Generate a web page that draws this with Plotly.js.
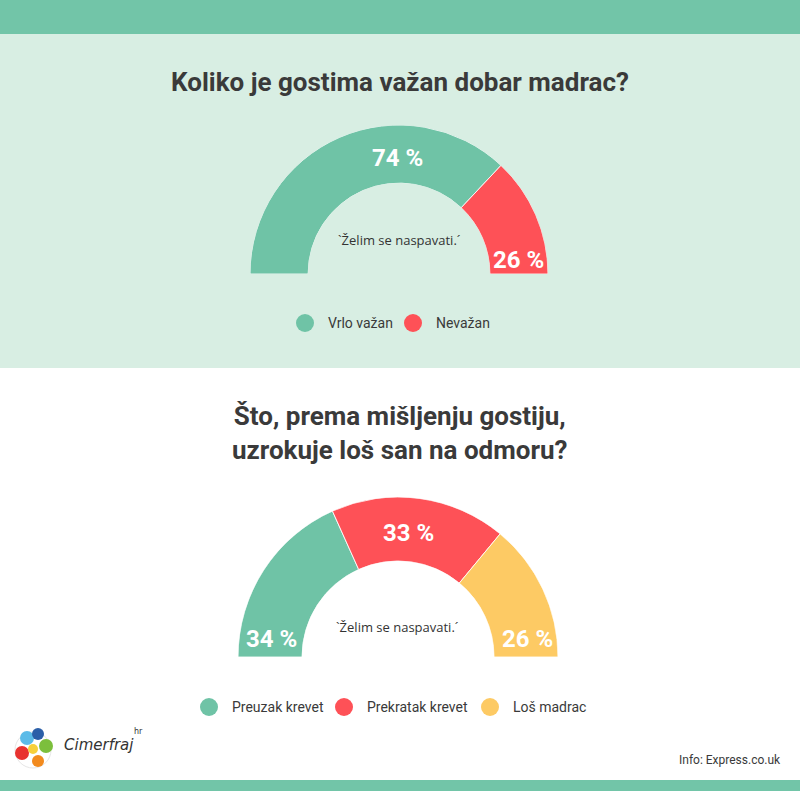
<!DOCTYPE html>
<html><head><meta charset="utf-8">
<script src="https://cdn.plot.ly/plotly-3.0.1.min.js"></script>
<style>html,body{margin:0;padding:0;background:#fff;}#chart{width:800px;height:791px;}</style>
</head><body><div id="chart"></div>
<script>
// ---- data ----
const title1 = 'Koliko je gostima važan dobar madrac?';
const cats1 = ['Vrlo važan', 'Nevažan'];
const vals1 = [74, 26];

const title2Lines = ['Što, prema mišljenju gostiju,', 'uzrokuje loš san na odmoru?'];
const cats2 = ['Preuzak krevet', 'Prekratak krevet', 'Loš madrac'];
const vals2 = [34, 33, 26];

const centerText = '`Želim se naspavati.´';
const sourceText = 'Info: Express.co.uk';
const brandText = 'Cimerfraj';
const brandSuffix = 'hr';

// ---- styles ----
const colors1 = ['#6fc3a6', '#fe5157'];
const colors2 = ['#6fc3a6', '#fe5157', '#fdca64'];
const W = 800, H = 791;
const TXT = '#3a3a3a';
const px = x => x / W;
const py = y => 1 - y / H;

function gaugeTraces(cats, vals, colors, polarId) {
  const total = vals.reduce((a, b) => a + b, 0);
  let cum = 0;
  return vals.map((v, i) => {
    const w = 180 * v / total;
    const th = 180 * cum / total + w / 2;
    cum += v;
    return {
      type: 'barpolar', subplot: polarId,
      r: [1], theta: [th], width: [w], base: [0],
      name: cats[i], showlegend: false,
      text: [v + ' %'], hoverinfo: 'name+text',
      marker: {color: colors[i], line: {color: 'rgba(255,255,255,0.85)', width: 1}}
    };
  });
}

const data = [
  ...gaugeTraces(cats1, vals1, colors1, 'polar'),
  ...gaugeTraces(cats2, vals2, colors2, 'polar2')
];

function polarCfg(cx, cy, R, hole) {
  return {
    domain: {x: [px(cx - R), px(cx + R)], y: [py(cy), py(cy - R)]},
    sector: [0, 180], hole: hole, bgcolor: 'rgba(0,0,0,0)',
    radialaxis: {visible: false, range: [0, 1]},
    angularaxis: {visible: false, rotation: 180, direction: 'clockwise'}
  };
}

const shapes = [
  {type: 'rect', xref: 'paper', yref: 'paper', x0: 0, x1: 1, y0: py(34), y1: 1, fillcolor: '#72c5a8', line: {width: 0}, layer: 'below'},
  {type: 'rect', xref: 'paper', yref: 'paper', x0: 0, x1: 1, y0: py(368), y1: py(34), fillcolor: '#d8eee3', line: {width: 0}, layer: 'below'},
  {type: 'rect', xref: 'paper', yref: 'paper', x0: 0, x1: 1, y0: 0, y1: py(780), fillcolor: '#72c5a8', line: {width: 0}, layer: 'below'}
];

const annotations = [];
function ann(text, x, y, size, opts) {
  annotations.push(Object.assign({
    text: text, xref: 'paper', yref: 'paper', x: px(x), y: py(y),
    xanchor: 'center', yanchor: 'middle', showarrow: false,
    font: {family: 'Roboto, sans-serif', size: size, color: TXT}
  }, opts || {}));
}

// legend items (circle + label)
function legend(cats, colors, xs, y) {
  cats.forEach((c, i) => {
    shapes.push({type: 'circle', xref: 'paper', yref: 'paper',
      x0: px(xs[i] - 9), x1: px(xs[i] + 9), y0: py(y + 9), y1: py(y - 9),
      fillcolor: colors[i], line: {width: 0}});
    ann(c, xs[i] + 21, y, 14, {xanchor: 'left'});
  });
}

// title 2
ann(title2Lines.join('<br>'), 400, 433, 26, {font: {family: 'Roboto, sans-serif', size: 26, color: TXT, weight: 700}});

// gauge labels
const lab = (t, x, y) => ann(t, x, y, 24, {font: {family: 'Roboto, sans-serif', size: 24, color: '#ffffff', weight: 700}});
const mid = (x, y) => ann(centerText, x, y, 13, {font: {family: 'Open Sans, sans-serif', size: 13, color: '#333'}});

lab(vals1[0] + ' %', 397, 158);
lab(vals1[1] + ' %', 518, 260);
mid(399, 240);
legend(cats1, colors1, [305, 413], 323);

lab(vals2[0] + ' %', 271, 639);
lab(vals2[1] + ' %', 408, 533);
lab(vals2[2] + ' %', 527, 639);
mid(397, 627);
legend(cats2, colors2, [209, 344, 490], 707);

// source
ann(sourceText, 783, 760, 12, {xanchor: 'right'});

// brand logo (approximation)
const logoParts = [
  [27, 738, 7, '#5bbbe8'], [38, 734, 6, '#2b5fa8'], [46, 746, 7, '#7cbf3c'],
  [22, 753, 7, '#e8322f'], [38, 761, 6, '#f28a1e'], [33, 749, 5, '#f6d03b']
];
shapes.push({type: 'circle', xref: 'paper', yref: 'paper', x0: px(15), x1: px(51), y0: py(768), y1: py(732), fillcolor: '#ffffff', line: {color: '#e6e6e6', width: 1}});
logoParts.forEach(p => shapes.push({type: 'circle', xref: 'paper', yref: 'paper',
  x0: px(p[0] - p[2]), x1: px(p[0] + p[2]), y0: py(p[1] + p[2]), y1: py(p[1] - p[2]),
  fillcolor: p[3], line: {width: 0}}));
ann(brandText, 62, 745, 15, {xanchor: 'left', font: {family: 'DejaVu Sans, sans-serif', size: 15, color: '#333', style: 'italic'}});
ann(brandSuffix, 132, 731, 8, {xanchor: 'left', font: {family: 'DejaVu Sans, sans-serif', size: 8, color: '#333'}});

const layout = {
  width: W, height: H, margin: {l: 0, r: 0, t: 0, b: 0},
  paper_bgcolor: '#ffffff', showlegend: false,
  title: {text: title1, x: 0.5, xanchor: 'center', y: py(82), yanchor: 'middle',
    font: {family: 'Roboto, sans-serif', size: 26, color: TXT, weight: 700}},
  polar: polarCfg(399, 274, 149, 0.61),
  polar2: polarCfg(398, 657, 160, 0.6),
  shapes: shapes, annotations: annotations
};

Plotly.newPlot('chart', data, layout, {displayModeBar: false, staticPlot: true});
</script></body></html>
